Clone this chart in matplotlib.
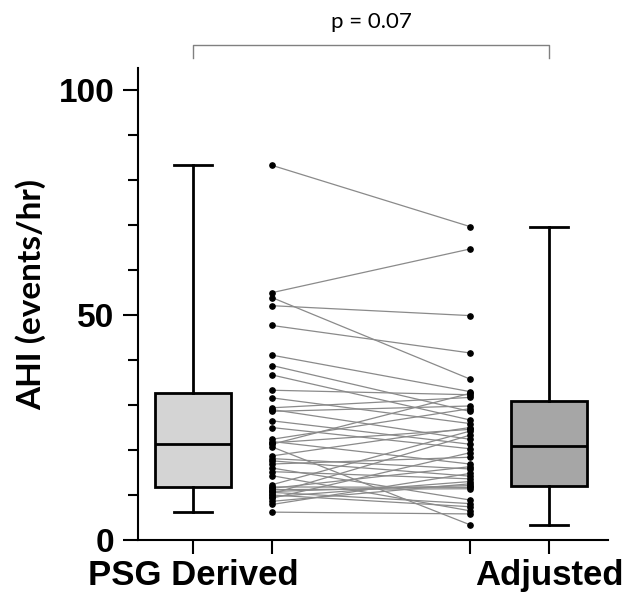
import matplotlib
matplotlib.use("Agg")
import matplotlib.pyplot as plt
from matplotlib.ticker import MultipleLocator

# paired AHI values (same subject at the same index)
psg = [83.3, 55.0, 53.9, 52.1, 47.7, 41.1, 38.8, 36.7, 33.3, 31.6,
       29.4, 29.0, 28.6, 26.5, 25.0, 22.4, 21.9, 21.6, 21.3, 20.7,
       18.7, 18.1, 17.6, 16.9, 16.0, 15.2, 14.3, 12.3, 11.8, 11.5,
       11.2, 10.8, 10.6, 10.3, 10.0, 9.6, 9.3, 8.6, 7.9, 6.2]
adjusted = [69.7, 64.7, 35.8, 49.9, 41.6, 33.0, 28.6, 26.7, 32.3, 25.9,
            31.7, 22.4, 29.8, 21.3, 20.3, 29.2, 16.9, 24.6, 32.6, 3.4,
            25.0, 15.8, 14.2, 18.4, 8.9, 13.6, 6.5, 24.2, 11.7, 16.3,
            11.4, 12.1, 8.1, 23.3, 7.4, 13.0, 19.4, 12.5, 14.8, 5.8]

groups = ["PSG Derived", "Adjusted"]
q1 = [11.7, 12.0]
medians = [21.3, 21.0]
q3 = [32.6, 31.0]
box_colors = ["#d4d4d4", "#a6a6a6"]
p_label = "p = 0.07"

box_pos = [0, 4.5]
dot_pos = [1, 3.5]


def plot_chart(output):
    fig = plt.figure(figsize=(6.26, 5.94), dpi=100)
    ax = fig.add_axes([0.2204, 0.0909, 0.7508, 0.795])

    stats = []
    for i, vals in enumerate([psg, adjusted]):
        stats.append({"med": medians[i], "q1": q1[i], "q3": q3[i],
                      "whislo": min(vals), "whishi": max(vals), "fliers": []})
    bp = ax.bxp(stats, positions=box_pos, widths=0.97, capwidths=0.48,
                patch_artist=True, showfliers=False,
                boxprops=dict(linewidth=2, edgecolor="black"),
                medianprops=dict(color="black", linewidth=2),
                whiskerprops=dict(linewidth=2, color="black"),
                capprops=dict(linewidth=2, color="black"))
    for patch, c in zip(bp["boxes"], box_colors):
        patch.set_facecolor(c)

    # paired lines + dots
    for a, b in zip(psg, adjusted):
        ax.plot(dot_pos, [a, b], color="#8a8a8a", lw=0.9, zorder=2)
    ax.plot([dot_pos[0]] * len(psg), psg, "o", color="black", ms=3.8, zorder=3)
    ax.plot([dot_pos[1]] * len(adjusted), adjusted, "o", color="black", ms=3.8, zorder=3)

    ax.set_xlim(-0.695, 5.246)
    ax.set_ylim(0, 105)
    ax.set_yticks([0, 50, 100])
    ax.yaxis.set_minor_locator(MultipleLocator(10))
    ax.set_xticks([box_pos[0], dot_pos[0], dot_pos[1], box_pos[1]])
    ax.set_xticklabels([groups[0], "", "", groups[1]])

    for s in ["top", "right"]:
        ax.spines[s].set_visible(False)
    for s in ["left", "bottom"]:
        ax.spines[s].set_linewidth(1.5)
    ax.tick_params(axis="y", which="major", length=11, width=1.5, pad=6)
    ax.tick_params(axis="y", which="minor", length=7, width=1.5)
    ax.tick_params(axis="x", length=10, width=1.5, pad=4)
    for lab in ax.get_yticklabels():
        lab.set_fontfamily("Liberation Sans")
        lab.set_fontweight("bold")
        lab.set_fontsize(24)
    for lab in ax.get_xticklabels():
        lab.set_fontfamily("Liberation Sans")
        lab.set_fontweight("bold")
        lab.set_fontsize(25)

    ax.set_ylabel("AHI (events/hr)", fontsize=24, fontweight="bold", family="Lato")
    ax.yaxis.set_label_coords(-0.195, 0.52)

    # significance bracket
    ax.plot([box_pos[0], box_pos[0], box_pos[1], box_pos[1]], [107.1, 110, 110, 107.1],
            color="#808080", lw=1, clip_on=False)
    ax.text(sum(box_pos) / 2, 115.2, p_label, ha="center", va="center",
            fontsize=16, family="Lato")

    plt.savefig(output, dpi=100)
    plt.close()


if __name__ == "__main__":
    plot_chart("out.png")
